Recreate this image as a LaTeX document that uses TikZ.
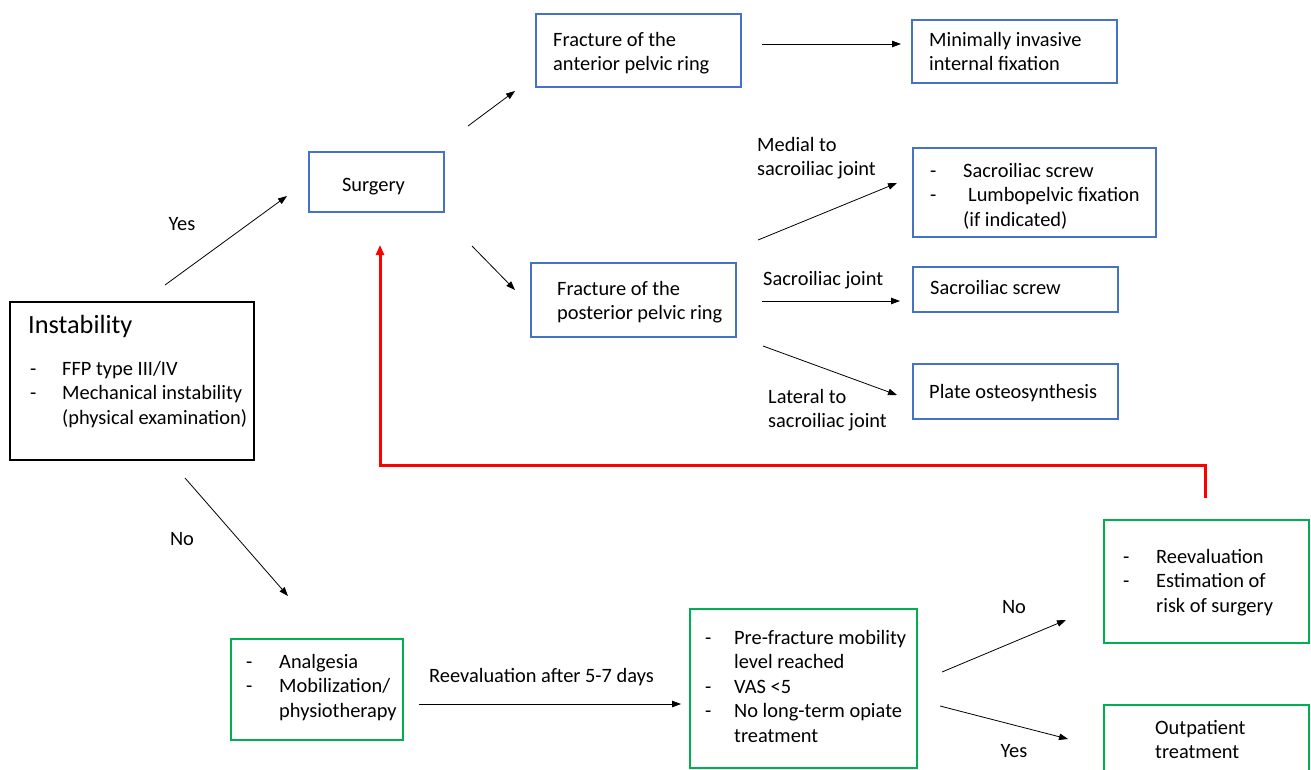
\documentclass[tikz,border=0pt]{standalone}
\usepackage{fontspec}
\setmainfont{Carlito}
\usetikzlibrary{arrows.meta}
\definecolor{boxblue}{HTML}{4472C4}
\definecolor{boxgreen}{HTML}{00B050}
\definecolor{backred}{HTML}{FF0000}
\begin{document}
\begin{tikzpicture}[x=1pt,y=-1pt,
  box/.style={draw, line width=1.2pt, inner sep=0pt, rectangle},
  bluebox/.style={box, draw=boxblue},
  greenbox/.style={box, draw=boxgreen},
  blackbox/.style={box, draw=black, line width=1.3pt},
  txt/.style={inner sep=0pt, anchor=base west, font=\fontsize{20.4}{24.5}\selectfont},
  ctxt/.style={inner sep=0pt, anchor=base, font=\fontsize{20.4}{24.5}\selectfont},
  arr/.style={-{Triangle[length=9pt,width=6.5pt]}, line width=0.8pt},
  redarr/.style={-{Triangle[length=10pt,width=8pt]}, line width=3pt, draw=backred, line join=miter}
]
\useasboundingbox (0,0) rectangle (1311,769);

% boxes
\node[blackbox, minimum width=244pt, minimum height=158pt] (inst) at (132,381) {};
\node[bluebox, minimum width=135pt, minimum height=60pt] (surg) at (376.5,182) {};
\node[bluebox, minimum width=205pt, minimum height=73pt] (ant) at (638.5,50.5) {};
\node[bluebox, minimum width=205pt, minimum height=63pt] (mini) at (1014.5,51.5) {};
\node[bluebox, minimum width=243pt, minimum height=89pt] (med) at (1034.5,192.5) {};
\node[bluebox, minimum width=205pt, minimum height=74pt] (post) at (633.5,300) {};
\node[bluebox, minimum width=205pt, minimum height=45pt] (sis) at (1015.5,289.5) {};
\node[bluebox, minimum width=205pt, minimum height=55pt] (plate) at (1015.5,391.5) {};
\node[greenbox, minimum width=172pt, minimum height=101pt] (anal) at (317,689.5) {};
\node[greenbox, minimum width=227pt, minimum height=159pt] (pre) at (803.5,688.5) {};
\node[greenbox, minimum width=205pt, minimum height=123pt] (reev) at (1206.5,581.5) {};
\node[greenbox, minimum width=205pt, minimum height=70pt] (outp) at (1206.5,740) {};

% box texts
\node[inner sep=0pt, anchor=base west, font=\fontsize{26.3}{30}\selectfont] (inst-title) at (28,333) {Instability};
\node[txt] (inst-t) at (30,375) {\begin{tabular}[t]{@{}p{32pt}@{}l@{}}-&FFP type III/IV\\-&Mechanical instability\\&(physical examination)\end{tabular}};
\node[ctxt] (surg-t) at (373.5,191) {Surgery};
\node[txt] (ant-t) at (553,46) {\begin{tabular}[t]{@{}l@{}}Fracture of the\\anterior pelvic ring\end{tabular}};
\node[txt] (mini-t) at (929,46) {\begin{tabular}[t]{@{}l@{}}Minimally invasive\\internal fixation\end{tabular}};
\node[txt] (med-t) at (930,177) {\begin{tabular}[t]{@{}p{33pt}@{}l@{}}-&Sacroiliac screw\\-&\hspace{5pt}Lumbopelvic fixation\\&(if indicated)\end{tabular}};
\node[txt] (post-t) at (557,295) {\begin{tabular}[t]{@{}l@{}}Fracture of the\\posterior pelvic ring\end{tabular}};
\node[txt] (sis-t) at (930,294) {Sacroiliac screw};
\node[txt] (plate-t) at (929,398) {Plate osteosynthesis};
\node[txt] (anal-t) at (246,668) {\begin{tabular}[t]{@{}p{33pt}@{}l@{}}-&Analgesia\\-&Mobilization/\\&physiotherapy\end{tabular}};
\node[txt] (pre-t) at (705,644) {\begin{tabular}[t]{@{}p{29pt}@{}l@{}}-&Pre-fracture mobility\\&level reached\\-&VAS <5\\-&No long-term opiate\\&treatment\end{tabular}};
\node[txt] (reev-t) at (1123,563) {\begin{tabular}[t]{@{}p{33pt}@{}l@{}}-&Reevaluation\\-&Estimation of\\&risk of surgery\end{tabular}};
\node[txt] (outp-t) at (1155,734) {\begin{tabular}[t]{@{}l@{}}Outpatient\\treatment\end{tabular}};

% connector labels
\node[ctxt] (l-yes1) at (182,230) {Yes};
\node[ctxt] (l-no1) at (182,545) {No};
\node[txt] (l-med) at (757,151) {\begin{tabular}[t]{@{}l@{}}Medial to\\sacroiliac joint\end{tabular}};
\node[txt] (l-si) at (763,285) {Sacroiliac joint};
\node[txt] (l-lat) at (768,403) {\begin{tabular}[t]{@{}l@{}}Lateral to\\sacroiliac joint\end{tabular}};
\node[txt] (l-reev) at (429,682) {Reevaluation after 5-7 days};
\node[ctxt] (l-no2) at (1014,613) {No};
\node[ctxt] (l-yes2) at (1014,757) {Yes};

% connector end points
\coordinate (a1s) at (165,285); \coordinate (a1e) at (287,196);
\coordinate (a2s) at (185,478); \coordinate (a2e) at (288,596);
\coordinate (a3s) at (468,126); \coordinate (a3e) at (515,91);
\coordinate (a4s) at (472,246); \coordinate (a4e) at (515,290);
\coordinate (a5s) at (762,44);  \coordinate (a5e) at (901,44);
\coordinate (a6s) at (758,240); \coordinate (a6e) at (897,183);
\coordinate (a7s) at (762,301); \coordinate (a7e) at (900,301);
\coordinate (a8s) at (763,346); \coordinate (a8e) at (897,395);
\coordinate (a9s) at (419,704); \coordinate (a9e) at (681,704);
\coordinate (a10s) at (942,672); \coordinate (a10e) at (1066,620);
\coordinate (a11s) at (940,706); \coordinate (a11e) at (1068,739);
\coordinate (rs) at (1205,498); \coordinate (rc1) at (1205,465);
\coordinate (rc2) at (380,465); \coordinate (re) at (380,245);

\draw[arr] (a1s) -- (a1e);
\draw[arr] (a2s) -- (a2e);
\draw[arr] (a3s) -- (a3e);
\draw[arr] (a4s) -- (a4e);
\draw[arr] (a5s) -- (a5e);
\draw[arr] (a6s) -- (a6e);
\draw[arr] (a7s) -- (a7e);
\draw[arr] (a8s) -- (a8e);
\draw[arr] (a9s) -- (a9e);
\draw[arr] (a10s) -- (a10e);
\draw[arr] (a11s) -- (a11e);
\draw[redarr] (rs) -- (rc1) -- (rc2) -- (re);
\end{tikzpicture}
\end{document}
